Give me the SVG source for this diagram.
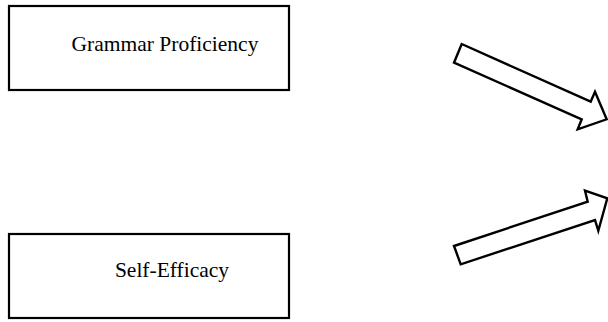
<svg xmlns="http://www.w3.org/2000/svg" width="608" height="322" viewBox="0 0 608 322">
<style>
.box{fill:#fff;stroke:#000;stroke-width:2.2}
.lbl{font-family:"Liberation Serif","Times New Roman",serif;font-size:21.5px;fill:#000;text-anchor:middle}
.arr{fill:#fff;stroke:#000;stroke-width:2.4;stroke-linejoin:miter}
</style>
<rect width="608" height="322" fill="#fff"/>
<g id="grammar">
<rect class="box" x="9" y="6" width="280" height="84"/>
<text class="lbl" x="165" y="51">Grammar Proficiency</text>
</g>
<g id="selfefficacy">
<rect class="box" x="9" y="234" width="280" height="84"/>
<text class="lbl" x="172" y="277">Self-Efficacy</text>
</g>
<g id="connectors">
<polygon class="arr" points="461.7,44 590.7,101.7 595,91.7 606.7,119.3 577.7,129.3 581.7,119.3 454,62.7"/>
<polygon class="arr" points="454,246 587.7,201.7 585,190.7 607.3,198.3 598.3,230.7 595,220 460.7,264.3"/>
</g>
</svg>
